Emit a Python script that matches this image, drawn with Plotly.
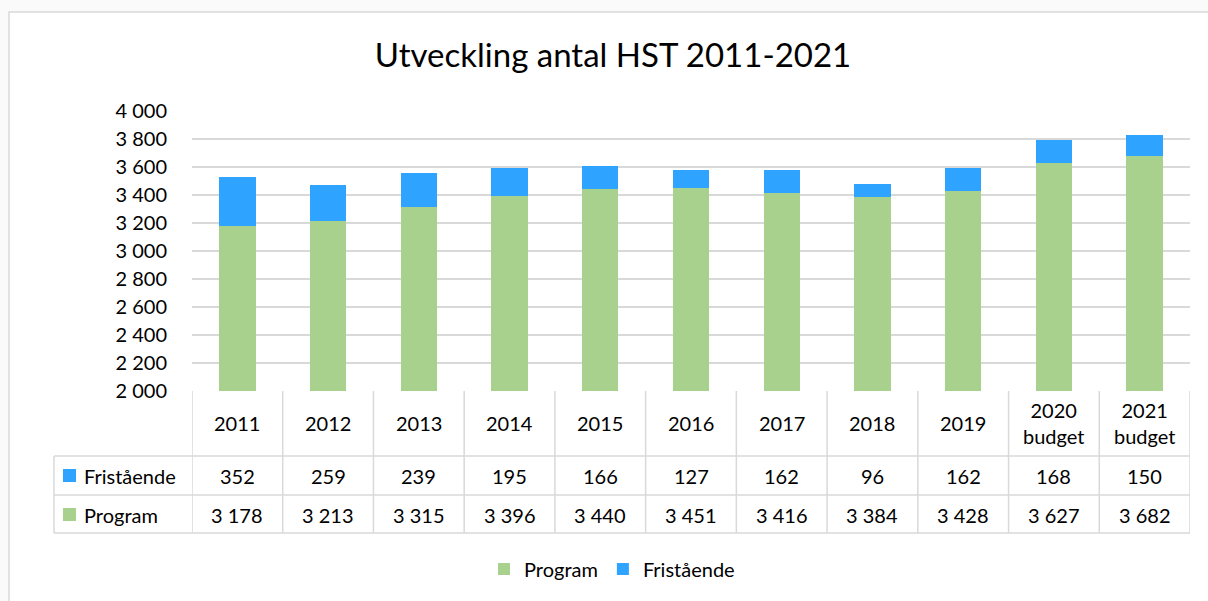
import plotly.graph_objects as go

categories = ["2011", "2012", "2013", "2014", "2015", "2016", "2017", "2018", "2019", "2020 budget", "2021 budget"]
header_labels = ["2011", "2012", "2013", "2014", "2015", "2016", "2017", "2018", "2019", "2020<br>budget", "2021<br>budget"]
program = [3178, 3213, 3315, 3396, 3440, 3451, 3416, 3384, 3428, 3627, 3682]
fristaende = [352, 259, 239, 195, 166, 127, 162, 96, 162, 168, 150]

title_text = "Utveckling antal HST 2011-2021"
y_min, y_max, y_step = 2000, 4000, 200

GREEN = "#A9D18E"
BLUE = "#2EA3FF"
GRID = "#D9D9D9"
FONT = "Lato"
TXT = "#000000"

W, H = 1208, 601
L, R, T, B = 192, 18, 111, 210
PW = W - L - R
PH = H - T - B


def px_x(px):
    return (px - L) / PW


def px_y(py):
    return (H - B - py) / PH


def fmt(v):
    return f"{v:,}".replace(",", " ")


fig = go.Figure()
fig.add_trace(go.Bar(name="Program", x=categories, y=program, marker=dict(color=GREEN, line=dict(width=0))))
fig.add_trace(go.Bar(name="Fristående", x=categories, y=fristaende, marker=dict(color=BLUE, line=dict(width=0))))

shapes = []
annotations = []

# outer chart frame
shapes.append(dict(type="rect", xref="paper", yref="paper", x0=px_x(9), x1=px_x(1220), y0=px_y(12), y1=px_y(620),
                   fillcolor="white", line=dict(color=GRID, width=1.5), layer="below"))

# data table lines
row_lines = [456, 495, 533]
for py in row_lines:
    shapes.append(dict(type="line", xref="paper", yref="paper", x0=px_x(54), x1=1, y0=px_y(py), y1=px_y(py),
                       line=dict(color=GRID, width=1.5)))
shapes.append(dict(type="line", xref="paper", yref="paper", x0=px_x(54), x1=px_x(54), y0=px_y(456), y1=px_y(533),
                   line=dict(color=GRID, width=1.5)))
n = len(categories)
for i in range(n + 1):
    shapes.append(dict(type="line", xref="x", yref="paper", x0=i - 0.5, x1=i - 0.5, y0=px_y(391), y1=px_y(533),
                       line=dict(color=GRID, width=1.5)))

# header row
for i, lab in enumerate(header_labels):
    annotations.append(dict(x=i, xref="x", y=px_y(423), yref="paper", text=lab, showarrow=False,
                            font=dict(family=FONT, size=20, color=TXT), xanchor="center", yanchor="middle"))
# value rows
rows = [("Fristående", fristaende, BLUE, 476), ("Program", program, GREEN, 515)]
for name, vals, col, yc in rows:
    shapes.append(dict(type="rect", xref="paper", yref="paper", x0=px_x(63), x1=px_x(76), y0=px_y(yc - 7), y1=px_y(yc + 6),
                       fillcolor=col, line=dict(width=0)))
    annotations.append(dict(x=px_x(82), xref="paper", y=px_y(yc), yref="paper", text=name, showarrow=False,
                            font=dict(family=FONT, size=20, color=TXT), xanchor="left", yanchor="middle"))
    for i, v in enumerate(vals):
        annotations.append(dict(x=i, xref="x", y=px_y(yc), yref="paper", text=fmt(v), showarrow=False,
                                font=dict(family=FONT, size=20, color=TXT), xanchor="center", yanchor="middle"))

fig.update_layout(
    width=W, height=H,
    margin=dict(l=L, r=R, t=T, b=B, pad=0),
    paper_bgcolor="#FAFAFA", plot_bgcolor="rgba(0,0,0,0)",
    barmode="stack", bargap=0.6,
    separators=", ",
    font=dict(family=FONT, size=20, color=TXT),
    title=dict(text=title_text, x=613 / W, xanchor="center", y=1 - 55 / H, yanchor="middle", yref="container",
               font=dict(family=FONT, size=33, color=TXT)),
    xaxis=dict(showticklabels=False, showgrid=False, zeroline=False, showline=False, ticks="",
               range=[-0.5, n - 0.5], fixedrange=True),
    yaxis=dict(range=[y_min, y_max], dtick=y_step, tick0=y_min, tickformat=",d", showgrid=True, gridcolor=GRID,
               gridwidth=1.5, zeroline=False, showline=False, ticks="", ticklabelstandoff=24,
               tickfont=dict(family=FONT, size=20, color=TXT)),
    legend=dict(orientation="h", x=px_x(612), xanchor="center", y=px_y(569), yanchor="middle",
                font=dict(family=FONT, size=20, color=TXT), traceorder="normal", bgcolor="rgba(0,0,0,0)"),
    shapes=shapes, annotations=annotations,
    showlegend=True,
)

fig.write_html("out.html", config={"displayModeBar": False},
               post_script="document.body.style.margin='0';document.body.style.padding='0';")
